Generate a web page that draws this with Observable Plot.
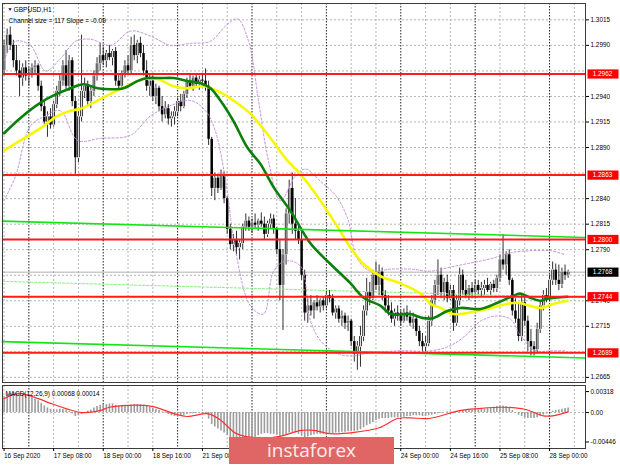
<!DOCTYPE html>
<html><head><meta charset="utf-8">
<script src="https://cdn.jsdelivr.net/npm/d3@7"></script>
<script src="https://cdn.jsdelivr.net/npm/@observablehq/plot@0.6"></script>
<style>
body{margin:0;background:#fff;}
#wrap{position:relative;width:620px;height:465px;overflow:hidden;background:#fff;}
#wrap svg{display:block;}
#wm{position:absolute;left:229px;top:437px;width:165px;height:27px;background:#e06666;color:#fdecec;font-family:"Open Sans",sans-serif;font-size:19px;line-height:26px;text-align:center;}
</style></head><body>
<div id="wrap"><div id="wm">instaforex</div></div>
<script>
// ---------- data (hourly GBPUSD bars, index 0 = 16 Sep 16:00) ----------
const opens = [1.2965,1.2990,1.3000,1.2990,1.2975,1.2965,1.2958,1.2968,1.2960,1.2962,
1.2968,1.2970,1.2950,1.2930,1.2915,1.2920,1.2912,1.2932,1.2945,1.2955,
1.2970,1.2950,1.2975,1.2935,1.2880,1.2920,1.2945,1.2950,1.2935,1.2945,
1.2960,1.2972,1.2980,1.2975,1.2982,1.2978,1.2984,1.2955,1.2950,1.2962,
1.2970,1.2965,1.2990,1.2980,1.2992,1.2982,1.2965,1.2950,1.2955,1.2940,
1.2948,1.2930,1.2922,1.2928,1.2918,1.2920,1.2925,1.2935,1.2930,1.2942,
1.2955,1.2950,1.2958,1.2952,1.2956,1.2955,1.2950,1.2898,1.2850,1.2860,
1.2850,1.2862,1.2840,1.2810,1.2795,1.2800,1.2792,1.2796,1.2812,1.2818,
1.2812,1.2816,1.2814,1.2818,1.2815,1.2805,1.2815,1.2820,1.2810,1.2790,
1.2755,1.2785,1.2825,1.2850,1.2815,1.2808,1.2800,1.2765,1.2728,1.2735,
1.2730,1.2738,1.2734,1.2740,1.2735,1.2745,1.2742,1.2728,1.2732,1.2722,
1.2725,1.2718,1.2720,1.2700,1.2688,1.2695,1.2705,1.2730,1.2748,1.2742,
1.2765,1.2755,1.2768,1.2745,1.2735,1.2730,1.2722,1.2728,1.2725,1.2720,
1.2728,1.2724,1.2718,1.2722,1.2710,1.2700,1.2695,1.2698,1.2720,1.2740,
1.2755,1.2765,1.2748,1.2758,1.2742,1.2750,1.2718,1.2740,1.2765,1.2750,
1.2745,1.2752,1.2748,1.2755,1.2750,1.2752,1.2755,1.2750,1.2756,1.2752,
1.2762,1.2780,1.2775,1.2785,1.2760,1.2730,1.2722,1.2705,1.2738,1.2720,
1.2700,1.2695,1.2692,1.2712,1.2735,1.2745,1.2742,1.2760,1.2770,1.2760,
1.2756,1.2768,1.2765];
const highs = [1.2995,1.3006,1.3008,1.2995,1.2990,1.2975,1.2972,1.2975,1.2968,1.2972,
1.2975,1.2972,1.2955,1.2935,1.2925,1.2928,1.2935,1.2950,1.2962,1.2975,
1.2985,1.2980,1.2978,1.2940,1.2925,1.3000,1.2958,1.2955,1.2950,1.2965,
1.2978,1.2992,1.2988,1.2985,1.2990,1.2986,1.2988,1.2962,1.2965,1.2975,
1.2980,1.2998,1.3000,1.2995,1.2998,1.2990,1.2975,1.2962,1.2960,1.2952,
1.2950,1.2940,1.2935,1.2932,1.2925,1.2930,1.2938,1.2942,1.2945,1.2958,
1.2962,1.2960,1.2962,1.2960,1.2962,1.2967,1.2955,1.2900,1.2865,1.2864,
1.2868,1.2866,1.2842,1.2815,1.2805,1.2808,1.2800,1.2815,1.2825,1.2822,
1.2820,1.2825,1.2820,1.2826,1.2822,1.2818,1.2825,1.2824,1.2812,1.2800,
1.2790,1.2830,1.2858,1.2865,1.2840,1.2815,1.2808,1.2770,1.2742,1.2745,
1.2740,1.2745,1.2742,1.2744,1.2748,1.2750,1.2746,1.2735,1.2735,1.2730,
1.2728,1.2725,1.2722,1.2705,1.2700,1.2715,1.2735,1.2762,1.2758,1.2770,
1.2778,1.2775,1.2772,1.2750,1.2745,1.2738,1.2732,1.2735,1.2730,1.2732,
1.2735,1.2730,1.2728,1.2725,1.2715,1.2708,1.2705,1.2725,1.2745,1.2760,
1.2780,1.2772,1.2762,1.2765,1.2755,1.2755,1.2745,1.2772,1.2770,1.2760,
1.2755,1.2758,1.2760,1.2760,1.2758,1.2760,1.2762,1.2758,1.2760,1.2765,
1.2785,1.2805,1.2788,1.2790,1.2762,1.2742,1.2738,1.2745,1.2745,1.2725,
1.2712,1.2700,1.2718,1.2740,1.2750,1.2752,1.2765,1.2778,1.2776,1.2775,
1.2772,1.2775,1.2770];
const lows = [1.2960,1.2982,1.2985,1.2968,1.2960,1.2940,1.2950,1.2955,1.2950,1.2958,
1.2962,1.2945,1.2925,1.2912,1.2900,1.2908,1.2910,1.2928,1.2940,1.2950,
1.2945,1.2945,1.2930,1.2864,1.2875,1.2915,1.2938,1.2930,1.2928,1.2940,
1.2955,1.2965,1.2970,1.2968,1.2975,1.2970,1.2950,1.2945,1.2948,1.2958,
1.2962,1.2962,1.2975,1.2972,1.2978,1.2960,1.2945,1.2940,1.2935,1.2932,
1.2925,1.2915,1.2918,1.2912,1.2910,1.2912,1.2920,1.2925,1.2928,1.2938,
1.2948,1.2945,1.2948,1.2946,1.2950,1.2945,1.2892,1.2842,1.2838,1.2845,
1.2848,1.2835,1.2805,1.2790,1.2788,1.2785,1.2780,1.2790,1.2808,1.2808,
1.2806,1.2810,1.2808,1.2812,1.2800,1.2802,1.2810,1.2805,1.2785,1.2740,
1.2711,1.2775,1.2815,1.2805,1.2800,1.2795,1.2760,1.2720,1.2718,1.2725,
1.2722,1.2730,1.2728,1.2730,1.2732,1.2738,1.2725,1.2722,1.2718,1.2715,
1.2712,1.2710,1.2695,1.2680,1.2672,1.2675,1.2700,1.2725,1.2735,1.2740,
1.2750,1.2745,1.2740,1.2728,1.2725,1.2718,1.2715,1.2720,1.2715,1.2718,
1.2720,1.2715,1.2712,1.2705,1.2695,1.2689,1.2690,1.2695,1.2715,1.2735,
1.2745,1.2742,1.2740,1.2738,1.2740,1.2710,1.2715,1.2735,1.2745,1.2742,
1.2740,1.2742,1.2745,1.2745,1.2744,1.2745,1.2748,1.2745,1.2748,1.2748,
1.2758,1.2770,1.2765,1.2755,1.2725,1.2718,1.2700,1.2700,1.2715,1.2690,
1.2686,1.2686,1.2688,1.2708,1.2730,1.2738,1.2740,1.2755,1.2755,1.2750,
1.2752,1.2760,1.2762];
const closes = [1.2990,1.3000,1.2990,1.2975,1.2965,1.2958,1.2968,1.2960,1.2962,1.2968,
1.2970,1.2950,1.2930,1.2915,1.2920,1.2912,1.2932,1.2945,1.2955,1.2970,
1.2950,1.2975,1.2935,1.2880,1.2920,1.2945,1.2950,1.2935,1.2945,1.2960,
1.2972,1.2980,1.2975,1.2982,1.2978,1.2984,1.2955,1.2950,1.2962,1.2970,
1.2965,1.2990,1.2980,1.2992,1.2982,1.2965,1.2950,1.2955,1.2940,1.2948,
1.2930,1.2922,1.2928,1.2918,1.2920,1.2925,1.2935,1.2930,1.2942,1.2955,
1.2950,1.2958,1.2952,1.2956,1.2955,1.2950,1.2898,1.2850,1.2860,1.2850,
1.2862,1.2840,1.2810,1.2795,1.2800,1.2792,1.2796,1.2812,1.2818,1.2812,
1.2816,1.2814,1.2818,1.2815,1.2805,1.2815,1.2820,1.2810,1.2790,1.2755,
1.2785,1.2825,1.2850,1.2815,1.2808,1.2800,1.2765,1.2728,1.2735,1.2730,
1.2738,1.2734,1.2740,1.2735,1.2745,1.2742,1.2728,1.2732,1.2722,1.2725,
1.2718,1.2720,1.2700,1.2688,1.2695,1.2705,1.2730,1.2748,1.2742,1.2765,
1.2755,1.2768,1.2745,1.2735,1.2730,1.2722,1.2728,1.2725,1.2720,1.2728,
1.2724,1.2718,1.2722,1.2710,1.2700,1.2695,1.2698,1.2720,1.2740,1.2755,
1.2765,1.2748,1.2758,1.2742,1.2750,1.2718,1.2740,1.2765,1.2750,1.2745,
1.2752,1.2748,1.2755,1.2750,1.2752,1.2755,1.2750,1.2756,1.2752,1.2762,
1.2780,1.2775,1.2785,1.2760,1.2730,1.2722,1.2705,1.2738,1.2720,1.2700,
1.2695,1.2692,1.2712,1.2735,1.2745,1.2742,1.2760,1.2770,1.2760,1.2756,
1.2768,1.2765,1.2768];

// moving averages (at sample bars)
const maGreenIdx = [0,5.3,11.8,16,21.5,25.6,30.2,34.4,38.5,43,46.3,50.5,54.7,59.2,63.4,66.6,69.8,74,78.5,82.7,87,92.4,98.9,105.3,111.8,116,121.5,124.7,131,135.3,138.5,143,147.3,153.7,159.2,164.4,166.6,169.8,173.1,175.3,181.8];
const maGreenVal = [1.2904,1.2919,1.2934,1.2941,1.2948,1.2952,1.2948,1.2947,1.2948,1.2955,1.2958,1.2958,1.2958,1.2955,1.2953,1.2948,1.2936,1.2916,1.2890,1.2874,1.2851,1.2828,1.2796,1.2776,1.2757,1.2743,1.2735,1.2727,1.2727,1.2723,1.2723,1.2730,1.2733,1.2732,1.2738,1.2745,1.2747,1.2743,1.2740,1.2742,1.2744];
const maYellowIdx = [0,5.3,11.8,17.3,21.5,24.7,30.2,35.3,40.8,45,49.5,54.7,59.2,64.4,69.8,74,79.5,85,91.5,95.6,102.1,108.5,111.8,116,121.5,127.9,134.4,137.6,140.8,145,149.5,156,162.4,165.6,169.8,173.1,177.3,181.8];
const maYellowVal = [1.2887,1.2897,1.2909,1.2921,1.2926,1.2928,1.2936,1.2944,1.2952,1.2957,1.2957,1.2950,1.2948,1.2950,1.2944,1.2936,1.2923,1.2903,1.2877,1.2864,1.2838,1.2808,1.2792,1.2776,1.2764,1.2757,1.2747,1.2737,1.2733,1.2727,1.2728,1.2732,1.2737,1.2738,1.2735,1.2733,1.2737,1.2740];

// envelope bands (dotted purple)
const bandUpIdx = [0,3.7,8.5,13.4,18.2,23.1,27.9,34.4,40.8,47.3,53.7,60.2,66.6,71.5,75.3,78.9,82.1,85.3,89.2,94,97.3,102.1,107,110.8,114,118.2,124.7,131.1,137.6,144,150.5,156.9,163.4,169.8,176.3,181.1];
const bandUpVal = [1.2975,1.2994,1.2990,1.2965,1.2977,1.2994,1.2996,1.2990,1.3004,1.2999,1.2990,1.2992,1.2994,1.3009,1.3016,1.2994,1.2936,1.2877,1.2838,1.2862,1.2869,1.2857,1.2843,1.2821,1.2781,1.2769,1.2771,1.2771,1.2769,1.2773,1.2777,1.2781,1.2787,1.2789,1.2789,1.2785];
const bandLoIdx = [0,3.7,8.5,13.4,18.2,23.7,31.1,40.8,47.3,53.7,60.2,65,68.2,71.5,74.7,79.5,83.7,87,90.8,95.6,98.9,102.1,107,111.8,118.2,127.9,137.6,144,148.9,153.7,158.5,163.4,166.6,171.5,176.3,181.1];
const bandLoVal = [1.2838,1.2862,1.2911,1.2921,1.2926,1.2897,1.2899,1.2902,1.2921,1.2931,1.2936,1.2926,1.2906,1.2857,1.2789,1.2735,1.2727,1.2769,1.2779,1.2774,1.2720,1.2701,1.2689,1.2686,1.2689,1.2691,1.2691,1.2696,1.2706,1.2720,1.2725,1.2722,1.2706,1.2691,1.2691,1.2691];

// regression channel (ends of the drawn lines)
const chanIdx = [-0.5, 187.6];
const chanUpper = [1.2818, 1.2802];
const chanMiddle = [1.2759, 1.2743];
const chanLower = [1.2700, 1.2684];

// horizontal levels
const levels = [1.2962, 1.2863, 1.2800, 1.2744, 1.2689];
const lastPrice = 1.2768;
const priceGrid = [1.2665,1.2690,1.2715,1.2740,1.2765,1.2790,1.2815,1.2840,1.2865,1.2890,1.2915,1.2940,1.2965,1.2990,1.3015];
const priceTickLabels = [1.2665,1.2715,1.2740,1.2790,1.2815,1.2840,1.2890,1.2915,1.2940,1.2990,1.3015];

// MACD
const macdHist = [0.0024,0.0027,0.0029,0.0030,0.0030,0.0029,0.0028,0.0027,0.0026,
0.0024,0.0021,0.0018,0.0014,0.0010,0.0007,
0.0005,0.0004,0.0004,0.0005,0.0005,0.0004,0.0002,
-0.0002,-0.0006,-0.0005,-0.0003,-0.0001,
0.0002,0.0004,0.0007,0.0009,0.0011,
0.0012,0.0012,0.0013,0.0013,0.0011,0.0010,0.0010,0.0010,0.0010,0.0011,0.0012,0.0012,0.0012,0.0011,
0.0009,0.0008,0.0006,0.0005,0.0003,0.0001,-0.0001,
-0.0003,-0.0005,-0.0006,-0.0006,-0.0005,-0.0004,
-0.0003,-0.0002,-0.0002,-0.0001,-0.0001,-0.0002,-0.0003,
-0.0010,-0.0018,-0.0022,-0.0025,-0.0028,-0.0031,-0.0035,
-0.0039,-0.0042,-0.0045,-0.0046,-0.0045,-0.0044,-0.0043,-0.0041,
-0.0038,-0.0035,-0.0033,-0.0032,-0.0032,-0.0033,-0.0033,-0.0034,
-0.0036,-0.0036,-0.0034,-0.0031,-0.0030,-0.0031,-0.0033,-0.0036,
-0.0038,-0.0037,-0.0035,-0.0034,-0.0033,-0.0033,-0.0033,-0.0032,
-0.0032,-0.0032,-0.0031,-0.0031,-0.0030,-0.0030,-0.0029,-0.0029,
-0.0029,-0.0028,-0.0026,-0.0023,-0.0020,-0.0018,-0.0015,-0.0012,
-0.0010,-0.0009,-0.0009,-0.0009,-0.0008,-0.0008,-0.0008,-0.0008,
-0.0007,-0.0006,-0.0006,-0.0005,-0.0005,-0.0005,-0.0006,-0.0006,-0.0005,-0.0004,-0.0003,-0.0002,
-0.0001,0.0000,0.0001,0.0001,0.0000,0.0001,0.0002,0.0003,0.0003,0.0003,
0.0004,0.0004,0.0004,0.0005,0.0005,0.0006,0.0007,0.0008,0.0009,0.0010,0.0010,0.0009,
0.0007,0.0003,-0.0001,-0.0004,-0.0006,-0.0008,-0.0009,-0.0009,-0.0009,-0.0008,-0.0006,-0.0004,-0.0002,
0.0000,0.0002,0.0003,0.0004,0.0005,0.0006,0.0007];
const signalIdx = [0,5,11,15,20,25,31,34,40,48,55,59,66,70,75,83,89,96,100,105,113,121,127,131,137,147,153,161,168,174,177,182];
const signalVal = [0.0021,0.0029,0.0021,0.0014,0.0006,0.0000,0.0003,0.0008,0.0011,0.0009,-0.0002,-0.0006,-0.0002,-0.0012,-0.0032,-0.0039,-0.0036,-0.0027,-0.0027,-0.0032,-0.0030,-0.0023,-0.0009,-0.0008,-0.0009,0.0003,0.0006,0.0008,0.0005,-0.0005,-0.0005,0.0001];
const macdTicks = [0.00318, 0, -0.00446];
const macdTickText = ["0.00318", "0.00", "-0.00446"];

// time axis (labels hidden by the watermark are left out)
const xLabelIdx = [0,16,32,48,64,128,144,160,176];
const xLabels = ["16 Sep 2020","17 Sep 08:00","18 Sep 00:00","18 Sep 16:00","21 Sep 08:00","24 Sep 00:00","24 Sep 16:00","25 Sep 08:00","28 Sep 00:00"];
const dayIdx = [8,32,56,80,104,128,152,176];
const minorIdx = [0,16,24,40,48,64,72,88,96,112,120,136,144,160,168,184];

// ---------- build ----------
const candles = closes.map((c, i) => ({i, o: opens[i], h: highs[i], l: lows[i], c}));
const pts = (ix, vs) => ix.map((x, k) => ({x, y: vs[k]}));
const hist = macdHist.map((v, i) => ({i, v}));
const xDomain = [-0.5, 187.6];
const FONT = "Liberation Sans, Arial, sans-serif";
const box = {draw(ctx) { ctx.moveTo(-15, -4.6); ctx.lineTo(16, -4.6); ctx.lineTo(16, 4.6); ctx.lineTo(-15, 4.6); ctx.closePath(); }};
const labelMap = new Map(xLabelIdx.map((d, k) => [d, xLabels[k]]));
const macdMap = new Map(macdTicks.map((d, k) => [d, macdTickText[k]]));

const main = Plot.plot({
  width: 620, height: 384,
  marginTop: 3, marginBottom: 2, marginLeft: 2, marginRight: 35,
  x: {type: "linear", domain: xDomain, axis: null},
  y: {domain: [1.2660, 1.3031], axis: null},
  style: {fontFamily: FONT, fontSize: "6.4px", background: "#fff", overflow: "visible"},
  marks: [
    Plot.ruleY(priceGrid, {stroke: "#b4b4b4", strokeDasharray: "2,2"}),
    Plot.ruleX(minorIdx, {stroke: "#b4b4b4", strokeDasharray: "2,2"}),
    Plot.ruleX(dayIdx, {stroke: "#222", strokeDasharray: "1.5,1.5"}),
    Plot.ruleY([lastPrice], {stroke: "#b0b0b0", strokeWidth: 1}),
    Plot.ruleX(candles, {x: "i", y1: "l", y2: "h", stroke: "#1a1a1a", strokeWidth: 0.9}),
    Plot.ruleX(candles, {x: "i", y1: "o", y2: "c", stroke: "#000", strokeWidth: 2.5}),
    Plot.ruleX(candles.filter(d => d.c > d.o), {x: "i", y1: "o", y2: "c", stroke: "#fff", strokeWidth: 0.9, insetTop: 0.7, insetBottom: 0.7}),
    Plot.line(pts(bandUpIdx, bandUpVal), {x: "x", y: "y", stroke: "#c38fdc", strokeWidth: 1, strokeDasharray: "2,2", curve: "catmull-rom"}),
    Plot.line(pts(bandLoIdx, bandLoVal), {x: "x", y: "y", stroke: "#c38fdc", strokeWidth: 1, strokeDasharray: "2,2", curve: "catmull-rom"}),
    Plot.line(pts(chanIdx, chanMiddle), {x: "x", y: "y", stroke: "#7cf27c", strokeWidth: 1, strokeDasharray: "2,2"}),
    Plot.line(pts(maYellowIdx, maYellowVal), {x: "x", y: "y", stroke: "#f7f700", strokeWidth: 2.6, curve: "catmull-rom"}),
    Plot.line(pts(maGreenIdx, maGreenVal), {x: "x", y: "y", stroke: "#0a800a", strokeWidth: 2.6, curve: "catmull-rom"}),
    Plot.line(pts(chanIdx, chanUpper), {x: "x", y: "y", stroke: "#14e614", strokeWidth: 1.6}),
    Plot.line(pts(chanIdx, chanLower), {x: "x", y: "y", stroke: "#14e614", strokeWidth: 1.6}),
    Plot.ruleY(levels, {stroke: "#ff1a1a", strokeWidth: 2}),
    Plot.frame({stroke: "#3c3c3c"}),
    Plot.axisY({anchor: "right", ticks: priceTickLabels, tickFormat: d => d.toFixed(4), tickSize: 3, tickPadding: 2, fontSize: 6.4, label: null}),
    Plot.dot(levels, {y: d => d, frameAnchor: "right", dx: 17, symbol: box, r: 5, fill: "#ff0000", stroke: "none"}),
    Plot.text(levels, {y: d => d, text: d => d.toFixed(4), frameAnchor: "right", dx: 17, textAnchor: "middle", fill: "#fff", fontSize: 6.4}),
    Plot.dot([lastPrice], {y: d => d, frameAnchor: "right", dx: 17, symbol: box, r: 5, fill: "#000", stroke: "none"}),
    Plot.text([lastPrice], {y: d => d, text: d => d.toFixed(4), frameAnchor: "right", dx: 17, textAnchor: "middle", fill: "#fff", fontSize: 6.4}),
    Plot.text(["\u25BC"], {frameAnchor: "top-left", dx: 5, dy: 4, fontSize: 5, textAnchor: "start"}),
    Plot.text(["GBPUSD,H1"], {frameAnchor: "top-left", dx: 11, dy: 4, fontSize: 6.6, textAnchor: "start"}),
    Plot.text(["Channel size = 117 Slope = -0.09"], {frameAnchor: "top-left", dx: 6, dy: 15, fontSize: 6.6, textAnchor: "start"})
  ]
});

const macd = Plot.plot({
  width: 620, height: 81,
  marginTop: 1, marginBottom: 17, marginLeft: 2, marginRight: 35,
  x: {type: "linear", domain: xDomain, axis: null},
  y: {domain: [-0.00545, 0.0041], axis: null},
  style: {fontFamily: FONT, fontSize: "6.4px", background: "#fff", overflow: "visible"},
  marks: [
    Plot.ruleX(minorIdx, {stroke: "#b4b4b4", strokeDasharray: "2,2"}),
    Plot.ruleX(dayIdx, {stroke: "#222", strokeDasharray: "1.5,1.5"}),
    Plot.ruleY([0], {stroke: "#b4b4b4", strokeDasharray: "2,2"}),
    Plot.ruleX(hist, {x: "i", y1: 0, y2: "v", stroke: "#9c9c9c", strokeWidth: 1.6}),
    Plot.line(pts(signalIdx, signalVal), {x: "x", y: "y", stroke: "#ff3030", strokeWidth: 1.2, curve: "catmull-rom"}),
    Plot.frame({stroke: "#3c3c3c"}),
    Plot.axisY({anchor: "right", ticks: macdTicks, tickFormat: d => macdMap.get(d), tickSize: 3, tickPadding: 2, fontSize: 6.4, label: null}),
    Plot.axisX({anchor: "bottom", ticks: xLabelIdx, tickFormat: d => labelMap.get(d), tickSize: 3, tickPadding: 2, textAnchor: "start", fontSize: 6.4, label: null}),
    Plot.text(["MACD(12,26,9) 0.00068 0.00014"], {frameAnchor: "top-left", dx: 3, dy: 6, fontSize: 6.4, textAnchor: "start"})
  ]
});

const wrap = document.getElementById("wrap");
const wm = document.getElementById("wm");
wrap.insertBefore(main, wm);
wrap.insertBefore(macd, wm);
</script>
</body></html>
